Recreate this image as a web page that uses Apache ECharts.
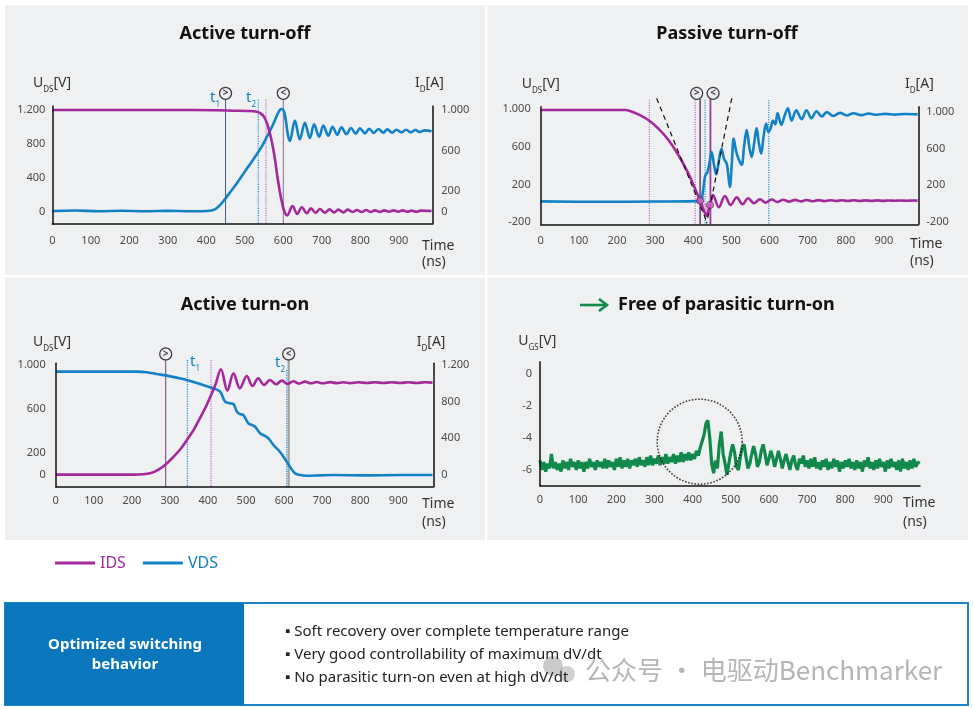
<!DOCTYPE html>
<html lang="en">
<head>
<meta charset="UTF-8" />
<title>Optimized switching behavior</title>
<script src="https://cdn.jsdelivr.net/npm/echarts@6/dist/echarts.min.js"></script>
<style>
  body { margin: 0; background: #fff; }
  #main { width: 973px; height: 709px; }
</style>
</head>
<body>
<div id="main"></div>
<script>
const IDS_COLOR = "#a2289c";
const VDS_COLOR = "#1182c5";
const UGS_COLOR = "#10894a";
const PANEL_BG = "#eff0f2";
const FONT = "Noto Sans";

const timeTicks = [0, 100, 200, 300, 400, 500, 600, 700, 800, 900];

// ---- Active turn-off ----
const p1LeftTicks = [0, 400, 800, 1200];
const p1RightTicks = [0, 200, 600, 1000];
const p1Vds = [
  [0, 8], [60, 14], [120, 6], [180, 12], [240, 5], [300, 10], [360, 6], [409, 12],
  [422, 28], [435, 75], [448, 146], [461, 224], [479, 334], [500, 472], [522, 617],
  [544, 767], [561, 916], [574, 1034], [584, 1141], [591, 1200], [596, 1211], [602, 1180],
  [607, 1062], [612, 905], [617, 834], [630, 1074], [643, 853], [656, 1050], [669, 869],
  [680, 1030], [693, 885], [704, 1015], [717, 897], [728, 1003], [740, 908], [751, 995],
  [764, 916], [776, 987], [788, 920], [799, 983], [812, 924], [823, 979], [835, 928],
  [847, 975], [860, 932], [870, 971], [883, 932], [894, 967], [907, 936], [919, 967],
  [931, 936], [943, 963], [955, 940], [967, 960], [985, 948]
];
const p1Ids = [
  [0, 1000], [300, 1000], [427, 997], [470, 993], [505, 990], [531, 983], [541, 967],
  [550, 934], [557, 875], [564, 787], [571, 672], [578, 524], [584, 361], [591, 197],
  [598, 66], [604, -10], [610, -36], [624, 56], [636, -23], [648, 43], [661, -16],
  [672, 33], [684, -13], [695, 26], [708, -10], [720, 23], [732, -7], [743, 20], [756, -7],
  [767, 20], [780, -3], [791, 16], [804, -3], [815, 16], [827, -3], [838, 13], [851, -3],
  [862, 13], [875, 0], [886, 13], [899, 0], [910, 13], [922, 0], [933, 10], [946, 0],
  [957, 10], [985, 7]
];
const p1Cursors = [450, 600];      // ">" and "<"
const p1BlueMarks = [535];         // t2
const p1PinkMarks = [555];

// ---- Passive turn-off ----
const p2LeftTicks = [-200, 200, 600, 1000];
const p2RightTicks = [-200, 200, 600, 1000];
const p2Vds = [
  [0, 22], [150, 18], [300, 21], [418, 25], [425, 120], [431, 290], [437, 330], [442, 420],
  [448, 550], [454, 420], [460, 310], [467, 450], [474, 580], [481, 470], [488, 420],
  [496, 175], [501, 420], [506, 690], [512, 560], [519, 470], [527, 410], [533, 600],
  [540, 780], [547, 600], [553, 495], [559, 620], [566, 800], [572, 640], [578, 530],
  [584, 700], [591, 850], [597, 760], [603, 800], [609, 880], [615, 840], [621, 960],
  [631, 835], [640, 940], [648, 1010], [658, 880], [670, 990], [684, 895], [697, 990],
  [710, 905], [723, 980], [737, 925], [750, 970], [767, 930], [785, 962], [802, 935],
  [820, 958], [841, 938], [859, 955], [881, 942], [903, 952], [929, 944], [955, 950], [988, 946]
];
const p2Ids = [
  [0, 1018], [221, 1018], [239, 1000], [256, 971], [282, 910], [308, 819], [335, 692],
  [361, 529], [387, 330], [405, 160], [418, 33], [427, -70], [435, -130], [441, -60],
  [444, -14], [452, 95], [467, -39], [483, 84], [498, -14], [514, 70], [529, -6], [544, 59],
  [559, 5], [575, 48], [590, 12], [606, 45], [620, 18], [636, 42], [651, 22], [667, 41],
  [682, 25], [697, 40], [712, 27], [728, 39], [743, 28], [759, 38], [774, 29], [790, 37],
  [805, 30], [821, 37], [836, 30], [852, 36], [867, 31], [883, 36], [898, 31], [913, 35],
  [929, 32], [944, 35], [959, 32], [975, 34], [988, 33]
];
const p2Recovery = [[418, 33], [427, -70], [435, -130], [441, -60], [444, -14]];
const p2Dots = [[418, 33], [444, -14]];
const p2Tangents = [[[304, 1117], [437, -211]], [[501, 1117], [435, -211]]];
const p2CursorSymbols = [409, 452];
const p2CursorLines = [418, 445];
const p2BlueMarks = [431, 598];
const p2PinkMarks = [285, 405];

// ---- Active turn-on ----
const p3LeftTicks = [0, 200, 600, 1000];
const p3RightTicks = [0, 400, 800, 1200];
const p3Vds = [
  [0, 939], [213, 939], [239, 933], [265, 918], [292, 903], [318, 885], [344, 864],
  [379, 827], [414, 788], [432, 758], [445, 667], [458, 651], [467, 645], [476, 576],
  [484, 554], [493, 545], [506, 470], [515, 455], [524, 439], [537, 379], [550, 355],
  [559, 333], [572, 273], [589, 212], [607, 121], [620, 52], [629, 15], [642, 0],
  [659, -6], [694, -3], [729, 0], [817, -3], [905, 0], [990, 0]
];
const p3Ids = [
  [0, 5], [204, 5], [230, 8], [250, 22], [270, 60], [289, 116], [310, 200], [330, 295],
  [346, 390], [362, 490], [379, 620], [395, 750], [408, 870], [420, 990], [434, 1153],
  [451, 920], [467, 1109], [484, 945], [502, 1080], [517, 971], [532, 1054], [547, 982],
  [563, 1036], [579, 989], [594, 1029], [609, 993], [624, 1022], [639, 996], [655, 1018],
  [670, 1000], [686, 1014], [701, 1000], [721, 1013], [738, 1002], [756, 1011], [773, 1002],
  [795, 1011], [817, 1004], [839, 1011], [861, 1004], [883, 1011], [905, 1004], [926, 1011],
  [948, 1004], [970, 1011], [990, 1007]
];
const p3Cursors = [289, 612];
const p3BlueMarks = [346, 607];
const p3PinkMarks = [408];

// ---- Free of parasitic turn-on (UGS sampled every 5 ns) ----
const ugsTicks = [0, -2, -4, -6];
const UGS_STEP = 5;
const ugsValues = [
  -5.4, -6.0, -5.5, -6.1, -5.6, -5.9, -5.0, -5.9, -5.5, -6.0, -5.6, -6.1, -5.4, -5.9, -5.5, -6.0, -5.3, -5.8, -5.5, -6.0,
  -5.4, -5.9, -5.5, -6.1, -5.5, -5.9, -5.3, -5.8, -5.5, -6.0, -5.4, -5.8, -5.5, -5.9, -5.3, -5.9, -5.4, -5.8, -5.5, -6.0,
  -5.3, -5.8, -5.2, -5.9, -5.4, -5.8, -5.3, -5.9, -5.4, -5.7, -5.3, -5.8, -5.2, -5.7, -5.4, -5.8, -5.2, -5.7, -5.1, -5.7,
  -5.3, -5.6, -5.1, -5.7, -5.2, -5.6, -5.0, -5.6, -5.2, -5.5, -5.0, -5.6, -5.1, -5.5, -4.9, -5.5, -5.0, -5.4, -4.9, -5.4,
  -5.0, -5.3, -4.8, -5.1, -4.6, -4.2, -3.8, -3.1, -2.9, -4.0, -5.6, -6.2, -5.4, -5.9, -4.4, -3.6, -5.0, -5.6, -6.3, -5.6,
  -4.9, -4.4, -4.9, -5.8, -6.0, -5.2, -4.6, -4.4, -5.2, -5.9, -5.6, -5.0, -4.5, -5.0, -5.8, -5.5, -4.8, -4.4, -5.0, -5.7,
  -5.3, -4.8, -5.2, -5.8, -5.3, -4.8, -5.3, -5.9, -5.4, -5.0, -5.5, -6.0, -5.4, -5.1, -5.7, -6.0, -5.3, -5.6, -5.1, -5.8,
  -5.4, -5.9, -5.3, -5.8, -5.2, -5.9, -5.5, -6.0, -5.4, -5.8, -5.3, -6.0, -5.5, -5.9, -5.3, -5.8, -5.4, -6.1, -5.5, -5.9,
  -5.4, -5.8, -5.3, -5.9, -5.5, -6.0, -5.4, -5.9, -5.5, -6.1, -5.4, -5.8, -5.2, -5.9, -5.5, -6.0, -5.4, -5.9, -5.3, -5.8,
  -5.5, -6.1, -5.4, -5.9, -5.3, -5.8, -5.5, -6.0, -5.4, -6.1, -5.3, -5.9, -5.5, -6.0, -5.4, -5.9, -5.3, -5.8, -5.5, -5.6
];
const ugsHighlight = [[418.6, -4.23]];

const bullets = [
  "Soft recovery over complete temperature range",
  "Very good controllability of maximum dV/dt",
  "No parasitic turn-on even at high dV/dt"
];

// ---------------------------------------------------------------
function fmt(v) {
  const s = String(Math.abs(v));
  const t = s.length > 3 ? s.slice(0, -3) + "." + s.slice(-3) : s;
  return (v < 0 ? "-" : "") + t;
}

function xAxisOf(grid, max, margin) {
  return {
    type: "value", gridIndex: grid, min: 0, max: max, z: 5,
    axisLine: { onZero: false, lineStyle: { color: "#111", width: 1.5 } },
    axisTick: { show: false }, splitLine: { show: false },
    axisLabel: { customValues: timeTicks, color: "#4a4a4a", fontSize: 11, fontFamily: FONT, margin: margin }
  };
}

function yAxisOf(grid, position, min, max, ticks, margin) {
  return {
    type: "value", gridIndex: grid, position: position, min: min, max: max, z: 5,
    axisLine: { show: true, onZero: false, lineStyle: { color: "#111", width: 1.5 } },
    axisTick: { show: false }, splitLine: { show: false },
    axisLabel: { customValues: ticks, formatter: fmt, color: "#4a4a4a", fontSize: 11, fontFamily: FONT, margin: margin }
  };
}

function curve(name, color, xi, yi, data, width, z) {
  return {
    type: "line", name: name, xAxisIndex: xi, yAxisIndex: yi, data: data,
    showSymbol: false, smooth: 0.35, silent: true, z: z || 4,
    lineStyle: { color: color, width: width || 2.6 }, itemStyle: { color: color }
  };
}

function rule(xi, yi, t, top, bottom, color, type, width) {
  return {
    type: "line", xAxisIndex: xi, yAxisIndex: yi, data: [[t, top], [t, bottom]],
    showSymbol: false, clip: false, silent: true, z: 2,
    lineStyle: { color: color, type: type, width: width }
  };
}

function cursor(xi, yi, t, v, glyph) {
  return {
    type: "scatter", xAxisIndex: xi, yAxisIndex: yi, data: [[t, v]], clip: false, silent: true,
    symbol: "circle", symbolSize: 12, z: 6,
    itemStyle: { color: PANEL_BG, borderColor: "#111", borderWidth: 1.3 },
    label: { show: true, position: "inside", formatter: glyph, color: "#111", fontSize: 10, fontWeight: "bold", fontFamily: FONT }
  };
}

function text(x, y, str, extra) {
  return {
    type: "text", x: x, y: y, z: 10, silent: true,
    style: Object.assign({ text: str, fill: "#333", fontSize: 14, fontFamily: FONT,
      align: "left", verticalAlign: "middle", textAlign: "left", textVerticalAlign: "middle" }, extra || {})
  };
}

function subText(x, y, main, sub, tail, color, size, subSize) {
  return text(x, y, "{m|" + main + "}{s|" + sub + "}{m|" + tail + "}", {
    rich: {
      m: { fontSize: size, lineHeight: 22, fill: color, fontFamily: FONT },
      s: { fontSize: subSize, fill: color, fontFamily: FONT, verticalAlign: "bottom" }
    }
  });
}

function rect(x, y, w, h, style, z) {
  return { type: "rect", z: z === undefined ? -1 : z, silent: true, shape: { x: x, y: y, width: w, height: h }, style: style };
}

// ---------------------------------------------------------------
const series = [];

// Active turn-off: grid 0, axes x0 / y0 (UDS) / y1 (ID)
p1PinkMarks.forEach(t => series.push(rule(0, 0, t, 1320, -145, "#c46ac4", "dotted", 1.2)));
p1BlueMarks.forEach(t => series.push(rule(0, 0, t, 1320, -145, "#2a8fd0", "dotted", 1.2)));
series.push(rule(0, 0, p1Cursors[0], 1330, -145, "#40607c", "solid", 1));
series.push(rule(0, 0, p1Cursors[1], 1330, -145, "#8c6e8c", "solid", 1));
series.push(curve("VDS", VDS_COLOR, 0, 0, p1Vds, 2.6, 3));
series.push(curve("IDS", IDS_COLOR, 0, 1, p1Ids, 2.6, 4));
series.push(cursor(0, 0, p1Cursors[0], 1397, ">"));
series.push(cursor(0, 0, p1Cursors[1], 1397, "<"));

// Passive turn-off: grid 1, axes x1 / y2 (UDS) / y3 (ID)
p2PinkMarks.forEach(t => series.push(rule(1, 2, t, 1100, -221, "#c46ac4", "dotted", 1.2)));
p2BlueMarks.forEach(t => series.push(rule(1, 2, t, 1100, -221, "#2a8fd0", "dotted", 1.2)));
series.push(rule(1, 2, p2CursorLines[0], 1110, -221, "#7a5a7a", "solid", 1.8));
series.push(rule(1, 2, p2CursorLines[1], 1110, -221, "#94409a", "solid", 1.8));
series.push({
  type: "line", xAxisIndex: 1, yAxisIndex: 3, data: p2Recovery, showSymbol: false, silent: true, z: 3,
  lineStyle: { width: 0 }, areaStyle: { color: "#e59ae0", opacity: 0.9 }
});
p2Tangents.forEach(seg => series.push({
  type: "line", xAxisIndex: 1, yAxisIndex: 2, data: seg, showSymbol: false, clip: false, silent: true, z: 5,
  lineStyle: { color: "#111", type: [5, 4], width: 1.2 }
}));
series.push(curve("VDS", VDS_COLOR, 1, 2, p2Vds, 2.6, 3));
series.push(curve("IDS", IDS_COLOR, 1, 3, p2Ids, 2.6, 4));
series.push({
  type: "scatter", xAxisIndex: 1, yAxisIndex: 3, data: p2Dots, symbolSize: 7, silent: true, z: 6,
  itemStyle: { color: "#e35fd8", borderColor: "#3a3a3a", borderWidth: 1 }
});
series.push(cursor(1, 2, p2CursorSymbols[0], 1170, ">"));
series.push(cursor(1, 2, p2CursorSymbols[1], 1170, "<"));

// Active turn-on: grid 2, axes x2 / y4 (UDS) / y5 (ID)
series.push(rule(2, 4, p3BlueMarks[0], 1045, -106, "#2a8fd0", "dotted", 1.2));
series.push(rule(2, 4, p3BlueMarks[1], 954, -106, "#2a8fd0", "dotted", 1.2));
p3PinkMarks.forEach(t => series.push(rule(2, 4, t, 1045, -106, "#c46ac4", "dotted", 1.2)));
series.push(rule(2, 4, p3Cursors[0], 1045, -106, "#7a3a7a", "solid", 1));
series.push(rule(2, 4, p3Cursors[1], 1045, -106, "#a0a0a0", "solid", 2.2));
series.push(curve("VDS", VDS_COLOR, 2, 4, p3Vds, 2.6, 3));
series.push(curve("IDS", IDS_COLOR, 2, 5, p3Ids, 2.6, 4));
series.push(cursor(2, 4, p3Cursors[0], 1100, ">"));
series.push(cursor(2, 4, p3Cursors[1], 1100, "<"));

// Free of parasitic turn-on: grid 3, axes x3 / y6
series.push({
  type: "line", name: "UGS", xAxisIndex: 3, yAxisIndex: 6,
  data: ugsValues.map((v, i) => [i * UGS_STEP, v]),
  showSymbol: false, silent: true, z: 4,
  lineStyle: { color: UGS_COLOR, width: 3.2 }, itemStyle: { color: UGS_COLOR }
});
series.push({
  type: "scatter", xAxisIndex: 3, yAxisIndex: 6, data: ugsHighlight, clip: false, silent: true,
  symbol: "circle", symbolSize: 85, z: 5,
  itemStyle: { color: "rgba(0,0,0,0)", borderColor: "#111", borderWidth: 1.6, borderType: "dotted" }
});

// ---------------------------------------------------------------
const graphics = [
  rect(5, 5, 480, 270, { fill: PANEL_BG }),
  rect(487.5, 5, 480.5, 270, { fill: PANEL_BG }),
  rect(5, 277.5, 480, 262.5, { fill: PANEL_BG }),
  rect(487.5, 277.5, 480.5, 262.5, { fill: PANEL_BG }),

  text(245, 34, "Active turn-off", { fontSize: 18, fontWeight: "bold", fill: "#111", align: "center", textAlign: "center" }),
  text(727, 34, "Passive turn-off", { fontSize: 18, fontWeight: "bold", fill: "#111", align: "center", textAlign: "center" }),
  text(245, 305, "Active turn-on", { fontSize: 18, fontWeight: "bold", fill: "#111", align: "center", textAlign: "center" }),
  text(618, 305, "Free of parasitic turn-on", { fontSize: 18, fontWeight: "bold", fill: "#111" }),
  { type: "line", z: 10, silent: true, shape: { x1: 580, y1: 305, x2: 606, y2: 305 }, style: { stroke: UGS_COLOR, lineWidth: 2.6 } },
  { type: "polyline", z: 10, silent: true, shape: { points: [[599, 299], [607, 305], [599, 311]] }, style: { stroke: UGS_COLOR, lineWidth: 2.6, fill: null } },

  subText(33, 83, "U", "DS", "[V]", "#333", 14, 8),
  subText(415, 83, "I", "D", "[A]", "#333", 14, 8),
  subText(521.7, 84, "U", "DS", "[V]", "#333", 14, 8),
  subText(905, 84, "I", "D", "[A]", "#333", 14, 8),
  subText(33, 341.7, "U", "DS", "[V]", "#333", 14, 8),
  subText(416.7, 341.7, "I", "D", "[A]", "#333", 14, 8),
  subText(518.3, 340.7, "U", "GS", "[V]", "#333", 14, 8),

  subText(210, 97.5, "t", "1", "", VDS_COLOR, 15, 8),
  subText(246, 97.5, "t", "2", "", VDS_COLOR, 15, 8),
  subText(190, 362, "t", "1", "", VDS_COLOR, 15, 8),
  subText(275, 363, "t", "2", "", VDS_COLOR, 15, 8),

  text(422, 246, "Time"), text(422, 262, "(ns)"),
  text(910, 244, "Time"), text(910, 261, "(ns)"),
  text(422, 504, "Time"), text(422, 521.7, "(ns)"),
  text(903, 503, "Time"), text(903, 521.7, "(ns)"),

  rect(5, 603, 963, 102, { fill: "#fff", stroke: "#1a84c6", lineWidth: 2 }, 0),
  rect(5, 603, 239, 102, { fill: "#0a76bc" }, 1),
  text(125, 655, "Optimized switching\nbehavior", { fontSize: 15, fontWeight: "bold", fill: "#fff",
    align: "center", textAlign: "center", lineHeight: 20 }),
  { type: "circle", z: 9, silent: true, shape: { cx: 553, cy: 666, r: 10 }, style: { fill: "rgba(140,140,140,0.45)" } },
  { type: "circle", z: 9, silent: true, shape: { cx: 567, cy: 674, r: 8 }, style: { fill: "rgba(140,140,140,0.4)" } },
  text(585, 670, "公众号 · 电驱动Benchmarker", { fontSize: 26, fill: "rgba(120,120,120,0.55)",
    fontFamily: "Noto Sans CJK SC" })
];
bullets.forEach((b, i) => graphics.push(text(285, 632 + i * 23, "▪ " + b, { fontSize: 15, fill: "#222" })));

// ---------------------------------------------------------------
const option = {
  animation: false,
  backgroundColor: "#fff",
  grid: [
    { left: 52.3, top: 106, width: 380, height: 118, outerBoundsMode: "none" },
    { left: 540.7, top: 106.7, width: 377.6, height: 117.6, outerBoundsMode: "none" },
    { left: 55.7, top: 363.3, width: 377.6, height: 123.4, outerBoundsMode: "none" },
    { left: 540, top: 361.7, width: 380, height: 124.3, outerBoundsMode: "none" }
  ],
  xAxis: [
    xAxisOf(0, 987, 11),
    xAxisOf(1, 990, 11),
    xAxisOf(2, 992, 9),
    xAxisOf(3, 996, 8)
  ],
  yAxis: [
    yAxisOf(0, "left", -145, 1247, p1LeftTicks, 7),
    yAxisOf(0, "right", -121, 1039, p1RightTicks, 9),
    yAxisOf(1, "left", -221, 1028, p2LeftTicks, 10),
    yAxisOf(1, "right", -224, 1054, p2RightTicks, 8),
    yAxisOf(2, "left", -106, 1015, p3LeftTicks, 10),
    yAxisOf(2, "right", -127, 1218, p3RightTicks, 8),
    yAxisOf(3, "left", -7, 0.77, ugsTicks, 8)
  ],
  legend: {
    left: 55, top: 555, padding: 0, itemWidth: 40, itemHeight: 3, itemGap: 17,
    icon: "rect", selectedMode: false,
    textStyle: { fontSize: 16, fontFamily: FONT },
    data: [
      { name: "IDS", textStyle: { color: IDS_COLOR } },
      { name: "VDS", textStyle: { color: VDS_COLOR } }
    ]
  },
  graphic: graphics,
  series: series
};

const chart = echarts.init(document.getElementById("main"));
chart.setOption(option);
</script>
</body>
</html>
